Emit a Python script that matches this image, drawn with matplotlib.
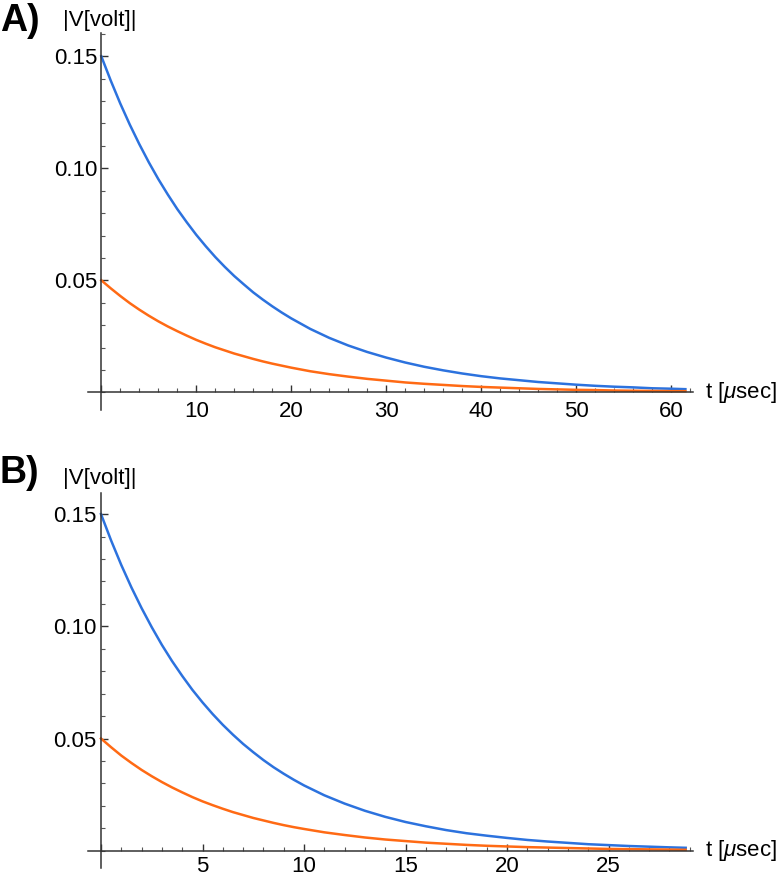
import numpy as np
import matplotlib
matplotlib.use('Agg')
import matplotlib.pyplot as plt
import matplotlib.ticker as mticker

plt.rcParams['font.family'] = ['Liberation Sans', 'DejaVu Sans']
plt.rcParams['mathtext.fontset'] = 'custom'
plt.rcParams['mathtext.rm'] = 'Liberation Sans'
plt.rcParams['mathtext.it'] = 'Liberation Sans:italic'

# panel A: t in usec, |V| in volt
t_a = [0, 1, 2, 3, 4, 5, 6, 7, 8, 9, 10, 11, 12, 13, 14, 15, 16, 17, 18, 19,
       20, 22, 24, 26, 28, 30, 32, 34, 36, 38, 40, 42, 44, 46, 48, 50, 52,
       54, 56, 58, 60, 61.5]
blue_a = [0.150, 0.1391, 0.1289, 0.1195, 0.1108, 0.1027, 0.0952, 0.0883,
          0.0818, 0.0759, 0.0703, 0.0652, 0.0604, 0.0560, 0.0519, 0.0482,
          0.0446, 0.0414, 0.0384, 0.0356, 0.0330, 0.0283, 0.0243, 0.0209,
          0.0180, 0.0155, 0.0133, 0.0114, 0.0098, 0.0084, 0.0072, 0.0062,
          0.0054, 0.0046, 0.0040, 0.0034, 0.0029, 0.0025, 0.0022, 0.0018,
          0.0016, 0.0014]
orange_a = [0.050, 0.0464, 0.0430, 0.0398, 0.0369, 0.0342, 0.0317, 0.0294,
            0.0273, 0.0253, 0.0234, 0.0217, 0.0201, 0.0187, 0.0173, 0.0161,
            0.0149, 0.0138, 0.0128, 0.0119, 0.0110, 0.0094, 0.0081, 0.0070,
            0.0060, 0.0052, 0.0044, 0.0038, 0.0033, 0.0028, 0.0024, 0.0021,
            0.0018, 0.0015, 0.0013, 0.0011, 0.0010, 0.0008, 0.0007, 0.0006,
            0.0005, 0.0005]

# panel B
t_b = [0, 0.5, 1, 1.5, 2, 2.5, 3, 3.5, 4, 4.5, 5, 5.5, 6, 6.5, 7, 7.5, 8,
       8.5, 9, 9.5, 10, 11, 12, 13, 14, 15, 16, 17, 18, 19, 20, 21, 22, 23,
       24, 25, 26, 27, 28, 28.8]
blue_b = [0.150, 0.1382, 0.1273, 0.1173, 0.1081, 0.0996, 0.0917, 0.0845,
          0.0779, 0.0717, 0.0661, 0.0609, 0.0561, 0.0517, 0.0476, 0.0439,
          0.0404, 0.0372, 0.0343, 0.0316, 0.0291, 0.0247, 0.0210, 0.0178,
          0.0151, 0.0128, 0.0109, 0.0092, 0.0078, 0.0067, 0.0057, 0.0048,
          0.0041, 0.0035, 0.0029, 0.0025, 0.0021, 0.0018, 0.0015, 0.0013]
orange_b = [0.050, 0.0461, 0.0424, 0.0391, 0.0360, 0.0332, 0.0306, 0.0282,
            0.0260, 0.0239, 0.0220, 0.0203, 0.0187, 0.0172, 0.0159, 0.0146,
            0.0135, 0.0124, 0.0114, 0.0105, 0.0097, 0.0082, 0.0070, 0.0059,
            0.0050, 0.0043, 0.0036, 0.0031, 0.0026, 0.0022, 0.0019, 0.0016,
            0.0014, 0.0012, 0.0010, 0.0008, 0.0007, 0.0006, 0.0005, 0.0004]

yticks = [0.05, 0.10, 0.15]
ytick_labels = ['0.05', '0.10', '0.15']

BLUE = '#2c72de'
ORANGE = '#ff6a14'
FS = 16

fig = plt.figure(figsize=(7.83, 8.8), dpi=100)


def style_axes(ax, xlim, ylim, xmajor, xminor, xpad):
    ax.set_xlim(*xlim)
    ax.set_ylim(*ylim)
    for s in ('top', 'right'):
        ax.spines[s].set_visible(False)
    ax.spines['left'].set_position(('data', 0))
    ax.spines['bottom'].set_position(('data', 0))
    for s in ('left', 'bottom'):
        ax.spines[s].set_color('#333333')
        ax.spines[s].set_linewidth(1.1)
    ax.set_yticks(yticks)
    ax.set_yticklabels(ytick_labels)
    ax.yaxis.set_minor_locator(mticker.MultipleLocator(0.01))
    ax.xaxis.set_major_locator(mticker.MultipleLocator(xmajor))
    ax.xaxis.set_minor_locator(mticker.MultipleLocator(xminor))
    ax.xaxis.set_major_formatter(
        mticker.FuncFormatter(lambda v, p: '' if abs(v) < 1e-9 else '%d' % v))
    ax.tick_params(which='major', direction='in', length=5, width=1.0,
                   color='#333333', labelsize=FS, pad=3)
    ax.tick_params(which='minor', direction='in', length=3, width=0.8,
                   color='#555555')
    ax.tick_params(axis='x', which='major', pad=xpad)
    ax.patch.set_alpha(0)


# panel A
ax1 = fig.add_axes([88 / 783, 1 - 410 / 880, 605 / 783, 377 / 880])
ax1.plot(t_a, blue_a, color=BLUE, lw=1.8, clip_on=False)
ax1.plot(t_a, orange_a, color=ORANGE, lw=1.8, clip_on=False)
style_axes(ax1, (-1.4, 62.3), (-0.0079, 0.1604), 10, 2, 6.5)

# panel B
ax2 = fig.add_axes([88 / 783, 1 - 868 / 880, 605 / 783, 375 / 880])
ax2.plot(t_b, blue_b, color=BLUE, lw=1.8, clip_on=False)
ax2.plot(t_b, orange_b, color=ORANGE, lw=1.8, clip_on=False)
style_axes(ax2, (-0.64, 29.16), (-0.0077, 0.1594), 5, 1, 4)

# labels
for ax, letter, y_letter, y_lab in ((ax1, 'A)', 31, 26), (ax2, 'B)', 483, 484)):
    fig.text(0 / 783, 1 - y_letter / 880, letter, fontsize=27, fontweight='bold',
             ha='left', va='baseline')
    fig.text(63 / 783, 1 - y_lab / 880, '|V[volt]|', fontsize=FS,
             ha='left', va='baseline')
    ax.text(1.02, 0, r't [$\mathit{\mu}$sec]', transform=ax.get_yaxis_transform(),
            fontsize=FS, ha='left', va='center')

fig.savefig('out.png', dpi=100)
